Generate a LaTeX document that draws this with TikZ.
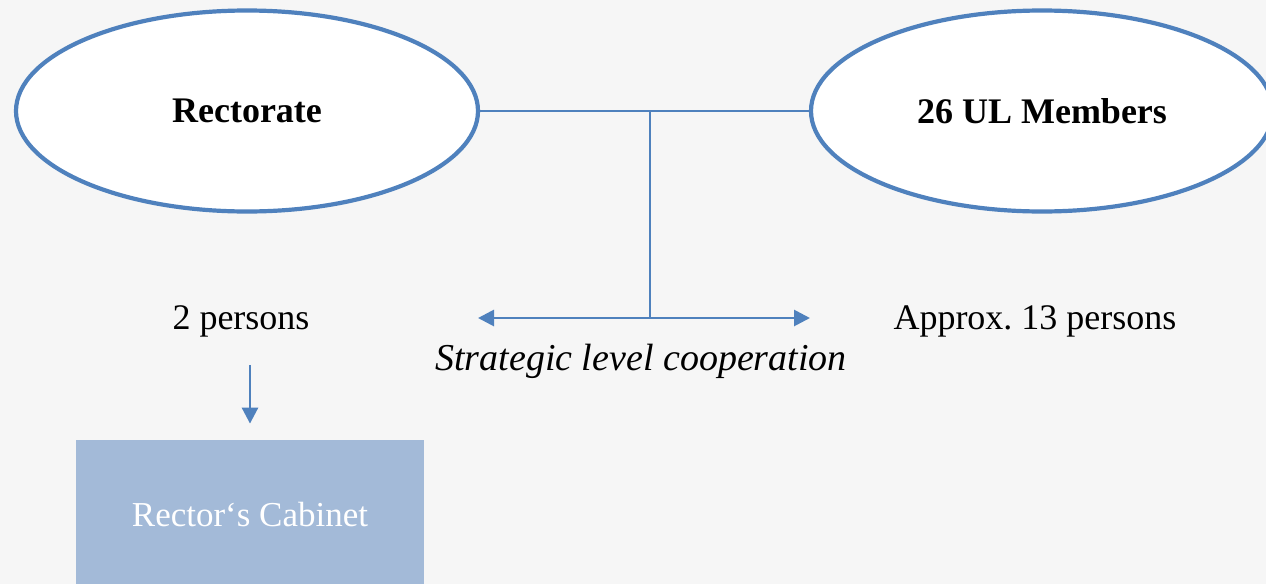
\documentclass[tikz,border=0pt]{standalone}
\usepackage{fontspec}
\setmainfont{Liberation Serif}
\usepackage{xcolor}
\usepackage{tikz}
\usetikzlibrary{
    shapes.geometric,
    arrows.meta,
    positioning,
    calc
}
\definecolor{primary}{RGB}{79,129,189}
\definecolor{boxfill}{RGB}{163,186,216}
\definecolor{bggray}{RGB}{246,246,246}
\tikzset{
    party/.style={
        ellipse,
        draw=primary,
        fill=white,
        minimum width=231pt,
        minimum height=100.5pt,
        font=\fontsize{18}{22}\selectfont\bfseries,
        line width=2.1pt
    },
    unit/.style={
        rectangle,
        fill=boxfill,
        minimum width=174pt,
        minimum height=75pt,
        text=white,
        font=\fontsize{17.5}{21}\selectfont
    },
    label/.style={
        font=\fontsize{18}{22}\selectfont
    },
    arrow/.style={
        -{Triangle[length=8pt,width=8pt]},
        draw=primary,
        line width=1.4pt
    },
    link/.style={
        draw=primary,
        line width=1pt
    }
}

\begin{document}
\begin{tikzpicture}[
    x=0.5pt, y=-0.5pt,
    node distance=1cm
]
    % Canvas
    \fill[bggray] (0,0) rectangle (1266,584);
    \useasboundingbox (0,0) rectangle (1266,584);

    \node[party] (rector) at (247,111) {Rectorate};
    \node[party] (members) at (1042,111) {26 UL Members};
    \node[unit] (cabinet) at (250,515) {Rector‘s Cabinet};

    % Annotations
    \node[label] (rpers) at (241,321) {2 persons};
    \node[label] (mpers) at (1035,321) {Approx.\ 13 persons};
    \node[label, font=\fontsize{19}{23}\selectfont\itshape] (coop) at (641,361) {Strategic level cooperation};

    % Connectors
    \coordinate (top) at (650,111);
    \coordinate (split) at (650,318);
    \coordinate (lefttip) at (478,318);
    \coordinate (righttip) at (810,318);
    \draw[link] (rector.east) -- (members.west);
    \draw[link] (top) -- (split);
    \draw[arrow] (split) -- (lefttip);
    \draw[arrow] (split) -- (righttip);
    \draw[arrow, shorten <=10.5pt, shorten >=8pt] (cabinet.north |- rpers.south) -- (cabinet.north);
\end{tikzpicture}
\end{document}
